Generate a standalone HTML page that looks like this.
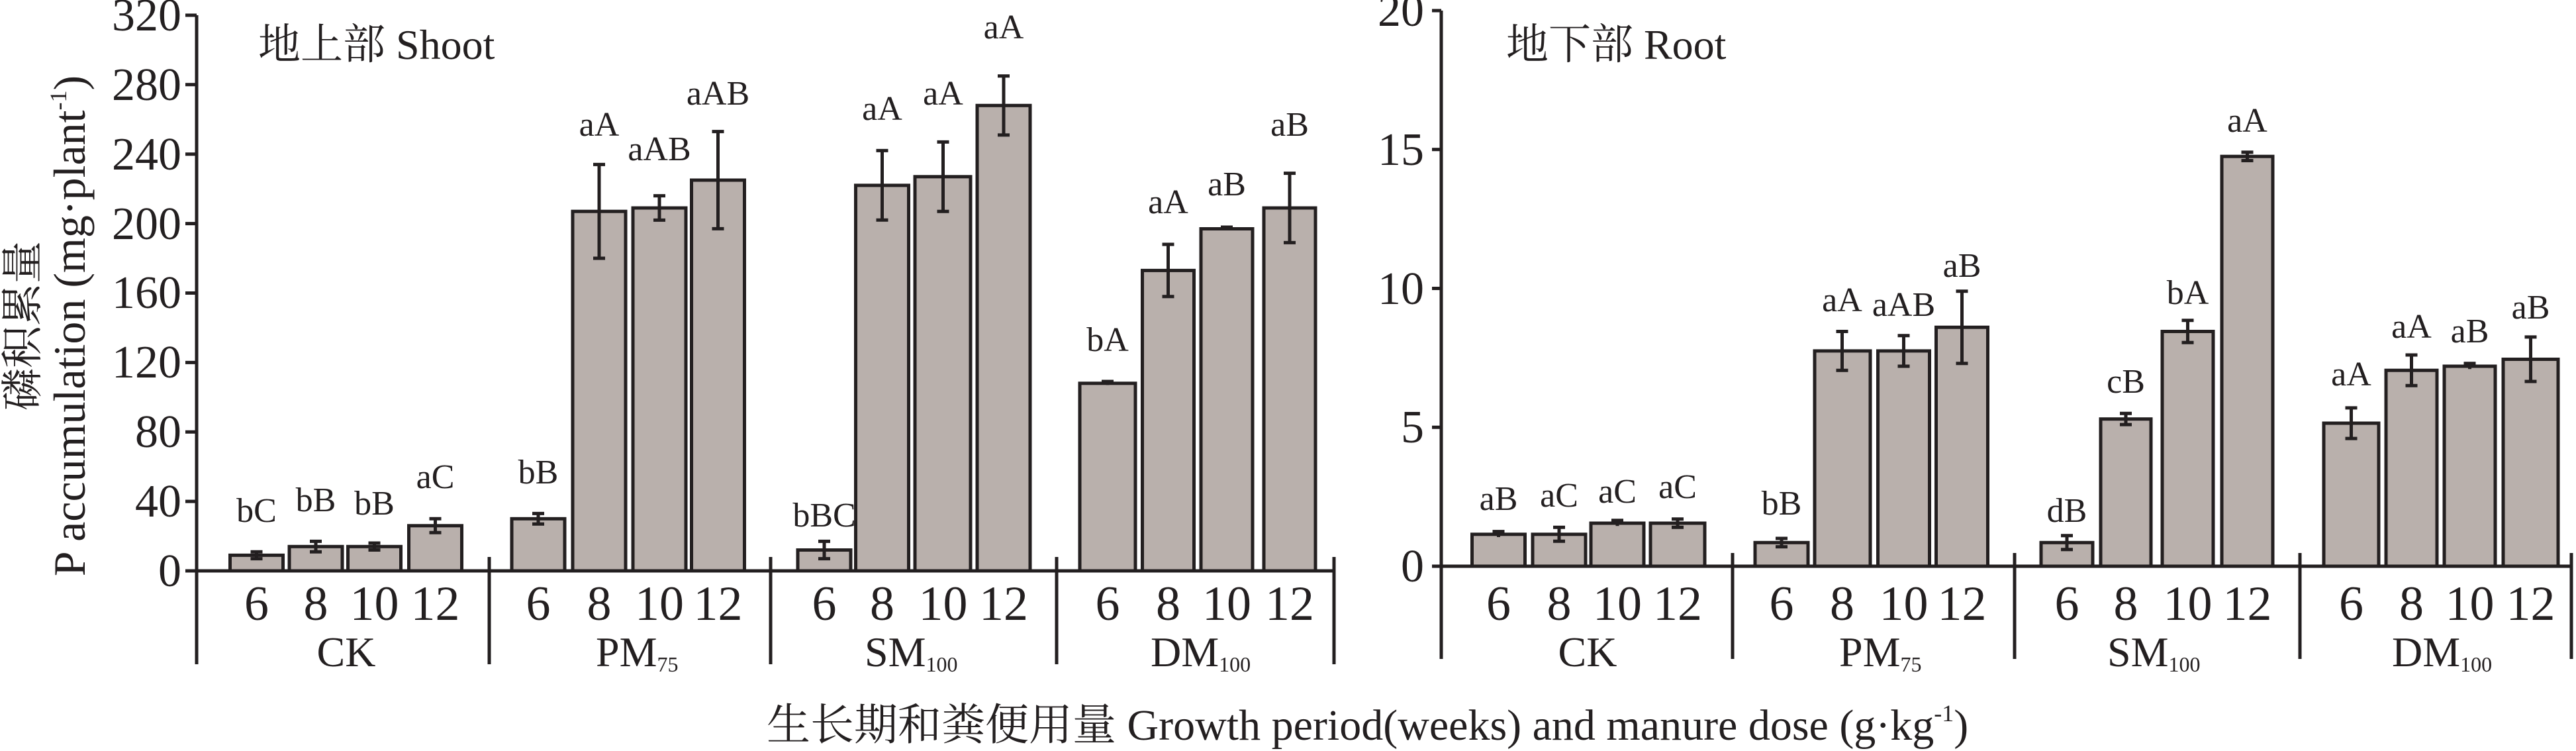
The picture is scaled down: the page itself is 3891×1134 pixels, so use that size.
<!DOCTYPE html>
<html><head><meta charset="utf-8"><style>
html,body{margin:0;padding:0;background:#fff}
svg{display:block}
text{font-family:"Liberation Serif","Noto Serif CJK SC",serif;fill:#231f20}
.cj{font-family:"Liberation Serif","Noto Serif CJK SC","Noto Sans CJK SC",serif}
.bar{fill:#b9b0ac;stroke:#231f20;stroke-width:5}
.ln{stroke:#231f20;stroke-width:5;fill:none}
.er{stroke:#231f20;stroke-width:5;fill:none}
.tk{font-size:70px;text-anchor:end}
.xl{font-size:74px;text-anchor:middle}
.lb{font-size:52px;text-anchor:middle}
.gn{font-size:64px}
.sb{font-size:32px}
</style></head><body>
<svg width="3891" height="1134" viewBox="0 0 3891 1134" xmlns="http://www.w3.org/2000/svg">
<g>
<line class="ln" x1="297" y1="23" x2="297" y2="1003"/>
<line class="ln" x1="297" y1="862" x2="2015" y2="862"/>
<line class="ln" x1="739" y1="841" x2="739" y2="1003"/>
<line class="ln" x1="1164" y1="841" x2="1164" y2="1003"/>
<line class="ln" x1="1596" y1="841" x2="1596" y2="1003"/>
<line class="ln" x1="2015" y1="841" x2="2015" y2="1003"/>
<g class="ln">
<line x1="280" y1="23" x2="297" y2="23"/><line x1="280" y1="127.8" x2="297" y2="127.8"/>
<line x1="280" y1="232.7" x2="297" y2="232.7"/><line x1="280" y1="337.6" x2="297" y2="337.6"/>
<line x1="280" y1="442.5" x2="297" y2="442.5"/><line x1="280" y1="547.4" x2="297" y2="547.4"/>
<line x1="280" y1="652.2" x2="297" y2="652.2"/><line x1="280" y1="757.1" x2="297" y2="757.1"/>
<line x1="280" y1="862" x2="297" y2="862"/>
</g>
<text class="tk" x="274" y="46">320</text><text class="tk" x="274" y="151">280</text>
<text class="tk" x="274" y="256">240</text><text class="tk" x="274" y="361">200</text>
<text class="tk" x="274" y="465">160</text><text class="tk" x="274" y="570">120</text>
<text class="tk" x="274" y="675">80</text><text class="tk" x="274" y="780">40</text>
<text class="tk" x="274" y="885">0</text>
<text class="cj" x="390" y="89" font-size="64">地上部 Shoot</text>
<text transform="translate(128,492) rotate(-90)" text-anchor="middle" font-size="68">P accumulation (mg·plant<tspan font-size="36" dy="-28">-1</tspan><tspan dy="28">)</tspan></text>
<text class="cj" transform="translate(56,492) rotate(-90)" text-anchor="middle" font-size="64">磷积累量</text>
<rect class="bar" x="347.5" y="838.4" width="80" height="23.6"/>
<rect class="bar" x="437" y="825.3" width="80" height="36.7"/>
<rect class="bar" x="525.5" y="825.3" width="80" height="36.7"/>
<rect class="bar" x="617.5" y="793.8" width="80" height="68.2"/>
<rect class="bar" x="773" y="783.3" width="80" height="78.7"/>
<rect class="bar" x="865" y="319.2" width="80" height="542.8"/>
<rect class="bar" x="956" y="314" width="80" height="548"/>
<rect class="bar" x="1044.5" y="272" width="80" height="590"/>
<rect class="bar" x="1205" y="830.5" width="80" height="31.5"/>
<rect class="bar" x="1292.5" y="279.9" width="80" height="582.1"/>
<rect class="bar" x="1382" y="266.8" width="84" height="595.2"/>
<rect class="bar" x="1476" y="159.3" width="80" height="702.7"/>
<rect class="bar" x="1631" y="578.8" width="84" height="283.2"/>
<rect class="bar" x="1725.5" y="408.4" width="78" height="453.6"/>
<rect class="bar" x="1814" y="345.5" width="78" height="516.5"/>
<rect class="bar" x="1909" y="314" width="78" height="548"/>
<g class="er">
<path d="M387.5 833.2V843.6M378.5 833.2H396.5M378.5 843.6H396.5"/>
<path d="M477 817.4V833.2M468 817.4H486M468 833.2H486"/>
<path d="M565.5 820V830.5M556.5 820H574.5M556.5 830.5H574.5"/>
<path d="M657.5 783.3V804.3M648.5 783.3H666.5M648.5 804.3H666.5"/>
<path d="M813 775.4V791.2M804 775.4H822M804 791.2H822"/>
<path d="M905 248.4V390M896 248.4H914M896 390H914"/>
<path d="M996 295.6V332.4M987 295.6H1005M987 332.4H1005"/>
<path d="M1084.5 198.6V345.4M1075.5 198.6H1093.5M1075.5 345.4H1093.5"/>
<path d="M1245 817.4V843.6M1236 817.4H1254M1236 843.6H1254"/>
<path d="M1332.5 227.4V332.3M1323.5 227.4H1341.5M1323.5 332.3H1341.5"/>
<path d="M1424.5 214.4V319.2M1415.5 214.4H1433.5M1415.5 319.2H1433.5"/>
<path d="M1516 114.7V203.9M1507 114.7H1525M1507 203.9H1525"/>
<path d="M1673 576V581.4M1664 576H1682"/>
<path d="M1764.5 369V447.7M1755.5 369H1773.5M1755.5 447.7H1773.5"/>
<path d="M1853 343V348M1844 343H1862"/>
<path d="M1948 261.6V366.4M1939 261.6H1957M1939 366.4H1957"/>
</g>
<text class="lb" x="387.5" y="788">bC</text><text class="lb" x="477" y="772">bB</text>
<text class="lb" x="565.5" y="777">bB</text><text class="lb" x="657.5" y="737">aC</text>
<text class="lb" x="813" y="730">bB</text><text class="lb" x="905" y="205">aA</text>
<text class="lb" x="996" y="242">aAB</text><text class="lb" x="1084.5" y="158">aAB</text>
<text class="lb" x="1245" y="795">bBC</text><text class="lb" x="1332.5" y="181">aA</text>
<text class="lb" x="1424.5" y="158">aA</text><text class="lb" x="1516" y="58">aA</text>
<text class="lb" x="1673" y="530">bA</text><text class="lb" x="1764.5" y="322">aA</text>
<text class="lb" x="1853" y="295">aB</text><text class="lb" x="1948" y="205">aB</text>
<text class="xl" x="387.5" y="936">6</text><text class="xl" x="477" y="936">8</text>
<text class="xl" x="565.5" y="936">10</text><text class="xl" x="657.5" y="936">12</text>
<text class="xl" x="813" y="936">6</text><text class="xl" x="905" y="936">8</text>
<text class="xl" x="996" y="936">10</text><text class="xl" x="1084.5" y="936">12</text>
<text class="xl" x="1245" y="936">6</text><text class="xl" x="1332.5" y="936">8</text>
<text class="xl" x="1424.5" y="936">10</text><text class="xl" x="1516" y="936">12</text>
<text class="xl" x="1673" y="936">6</text><text class="xl" x="1764.5" y="936">8</text>
<text class="xl" x="1853" y="936">10</text><text class="xl" x="1948" y="936">12</text>
<text class="gn" x="523" y="1006" text-anchor="middle">CK</text>
<text class="gn" x="900" y="1006">PM<tspan class="sb" dy="8">75</tspan></text>
<text class="gn" x="1306" y="1006">SM<tspan class="sb" dy="8">100</tspan></text>
<text class="gn" x="1738" y="1006">DM<tspan class="sb" dy="8">100</tspan></text>
</g>
<g>
<line class="ln" x1="2177" y1="16" x2="2177" y2="995"/>
<line class="ln" x1="2177" y1="855" x2="3884" y2="855"/>
<line class="ln" x1="2617" y1="835" x2="2617" y2="995"/>
<line class="ln" x1="3043" y1="835" x2="3043" y2="995"/>
<line class="ln" x1="3474" y1="835" x2="3474" y2="995"/>
<line class="ln" x1="3884" y1="835" x2="3884" y2="995"/>
<g class="ln">
<line x1="2163" y1="16" x2="2177" y2="16"/><line x1="2163" y1="225.7" x2="2177" y2="225.7"/>
<line x1="2163" y1="435.5" x2="2177" y2="435.5"/><line x1="2163" y1="645.2" x2="2177" y2="645.2"/>
<line x1="2163" y1="855" x2="2177" y2="855"/>
</g>
<text class="tk" x="2151" y="39">20</text><text class="tk" x="2151" y="249">15</text>
<text class="tk" x="2151" y="459">10</text><text class="tk" x="2151" y="668">5</text>
<text class="tk" x="2151" y="878">0</text>
<text class="cj" x="2275" y="89" font-size="64">地下部 Root</text>
<rect class="bar" x="2223.5" y="806.8" width="80" height="48.2"/>
<rect class="bar" x="2315" y="806.8" width="80" height="48.2"/>
<rect class="bar" x="2403" y="790" width="80" height="65"/>
<rect class="bar" x="2493" y="790" width="82" height="65"/>
<rect class="bar" x="2651" y="819.3" width="80" height="35.7"/>
<rect class="bar" x="2741" y="529.9" width="84" height="325.1"/>
<rect class="bar" x="2836.5" y="529.9" width="78" height="325.1"/>
<rect class="bar" x="2924.5" y="494.2" width="78" height="360.8"/>
<rect class="bar" x="3083" y="819.3" width="78" height="35.7"/>
<rect class="bar" x="3173" y="632.7" width="76" height="222.3"/>
<rect class="bar" x="3266" y="500.5" width="77" height="354.5"/>
<rect class="bar" x="3356" y="236.2" width="77" height="618.8"/>
<rect class="bar" x="3510" y="639" width="83" height="216"/>
<rect class="bar" x="3604" y="559.2" width="77" height="295.8"/>
<rect class="bar" x="3692" y="553" width="77" height="302"/>
<rect class="bar" x="3781" y="542.5" width="83" height="312.5"/>
<g class="er">
<path d="M2263.5 802.6V811M2254.5 802.6H2272.5"/>
<path d="M2355 796.3V817.3M2346 796.3H2364M2346 817.3H2364"/>
<path d="M2443 785.8V794.2M2434 785.8H2452"/>
<path d="M2534 783.7V796.3M2525 783.7H2543M2525 796.3H2543"/>
<path d="M2691 813V825.6M2682 813H2700M2682 825.6H2700"/>
<path d="M2782.5 500.5V559.3M2773.5 500.5H2791.5M2773.5 559.3H2791.5"/>
<path d="M2875.5 506.8V553M2866.5 506.8H2884.5M2866.5 553H2884.5"/>
<path d="M2963.5 439.7V548.7M2954.5 439.7H2972.5M2954.5 548.7H2972.5"/>
<path d="M3122 808.8V829.8M3113 808.8H3131M3113 829.8H3131"/>
<path d="M3211 624.3V641.1M3202 624.3H3220M3202 641.1H3220"/>
<path d="M3304.5 483.7V517.3M3295.5 483.7H3313.5M3295.5 517.3H3313.5"/>
<path d="M3394.5 229.9V242.5M3385.5 229.9H3403.5M3385.5 242.5H3403.5"/>
<path d="M3551.5 615.9V662.1M3542.5 615.9H3560.5M3542.5 662.1H3560.5"/>
<path d="M3642.5 536V582.3M3633.5 536H3651.5M3633.5 582.3H3651.5"/>
<path d="M3730.5 548.8V557.2M3721.5 548.8H3739.5"/>
<path d="M3822.5 508.9V576M3813.5 508.9H3831.5M3813.5 576H3831.5"/>
</g>
<text class="lb" x="2263.5" y="770">aB</text><text class="lb" x="2355" y="765">aC</text>
<text class="lb" x="2443" y="759">aC</text><text class="lb" x="2534" y="752">aC</text>
<text class="lb" x="2691" y="777">bB</text><text class="lb" x="2782.5" y="470">aA</text>
<text class="lb" x="2875.5" y="477">aAB</text><text class="lb" x="2963.5" y="418">aB</text>
<text class="lb" x="3122" y="788">dB</text><text class="lb" x="3211" y="593">cB</text>
<text class="lb" x="3304.5" y="459">bA</text><text class="lb" x="3394.5" y="199">aA</text>
<text class="lb" x="3551.5" y="582">aA</text><text class="lb" x="3642.5" y="510">aA</text>
<text class="lb" x="3730.5" y="517">aB</text><text class="lb" x="3822.5" y="481">aB</text>
<text class="xl" x="2263.5" y="936">6</text><text class="xl" x="2355" y="936">8</text>
<text class="xl" x="2443" y="936">10</text><text class="xl" x="2534" y="936">12</text>
<text class="xl" x="2691" y="936">6</text><text class="xl" x="2782.5" y="936">8</text>
<text class="xl" x="2875.5" y="936">10</text><text class="xl" x="2963.5" y="936">12</text>
<text class="xl" x="3122" y="936">6</text><text class="xl" x="3211" y="936">8</text>
<text class="xl" x="3304.5" y="936">10</text><text class="xl" x="3394.5" y="936">12</text>
<text class="xl" x="3551.5" y="936">6</text><text class="xl" x="3642.5" y="936">8</text>
<text class="xl" x="3730.5" y="936">10</text><text class="xl" x="3822.5" y="936">12</text>
<text class="gn" x="2398" y="1006" text-anchor="middle">CK</text>
<text class="gn" x="2778" y="1006">PM<tspan class="sb" dy="8">75</tspan></text>
<text class="gn" x="3183" y="1006">SM<tspan class="sb" dy="8">100</tspan></text>
<text class="gn" x="3613" y="1006">DM<tspan class="sb" dy="8">100</tspan></text>
</g>
<text class="cj" x="1158" y="1117" font-size="66">生长期和粪便用量 Growth period(weeks) and manure dose (g·kg<tspan font-size="36" dy="-28">-1</tspan><tspan dy="28">)</tspan></text>
</svg>
</body></html>
